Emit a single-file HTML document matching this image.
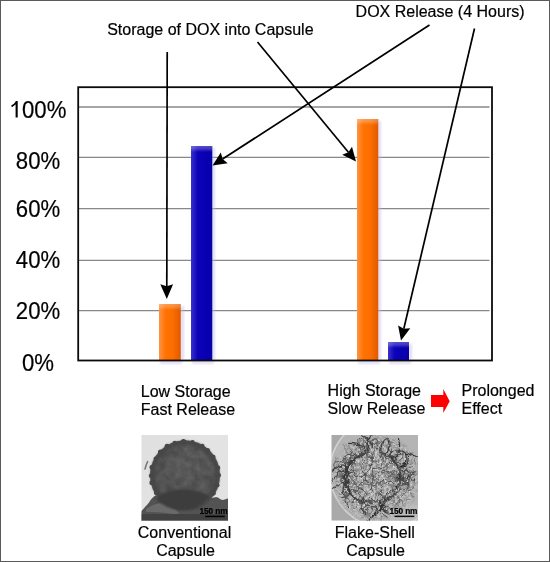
<!DOCTYPE html>
<html><head><meta charset="utf-8">
<style>
html,body{margin:0;padding:0;background:#fff;}
body{width:550px;height:562px;overflow:hidden;position:relative;}
svg{position:absolute;left:0;top:0;display:block;}
text{font-family:"Liberation Sans",sans-serif;fill:#000;stroke:#000;stroke-width:0.2px;}
</style></head>
<body>
<svg width="550" height="562" viewBox="0 0 550 562">
<g opacity="0.999">
<defs>
  <linearGradient id="ogH" x1="0" y1="0" x2="1" y2="0">
    <stop offset="0" stop-color="#ff9242"/>
    <stop offset="0.32" stop-color="#ff7200"/>
    <stop offset="0.62" stop-color="#fc6e00"/>
    <stop offset="1" stop-color="#e05a00"/>
  </linearGradient>
  <linearGradient id="bgH" x1="0" y1="0" x2="1" y2="0">
    <stop offset="0" stop-color="#3a30cc"/>
    <stop offset="0.32" stop-color="#0c02b8"/>
    <stop offset="0.7" stop-color="#0900b2"/>
    <stop offset="1" stop-color="#0700a6"/>
  </linearGradient>
  <linearGradient id="topHi" x1="0" y1="0" x2="0" y2="1">
    <stop offset="0" stop-color="#fff" stop-opacity="0.3"/>
    <stop offset="0.45" stop-color="#fff" stop-opacity="0.22"/>
    <stop offset="1" stop-color="#fff" stop-opacity="0"/>
  </linearGradient>
  <filter id="blur1" x="-50%" y="-50%" width="200%" height="200%"><feGaussianBlur stdDeviation="1.2"/></filter>
</defs>

<!-- outer border -->
<rect x="0.5" y="0.5" width="549" height="561" fill="none" stroke="#5a5a5a" stroke-width="1"/>

<!-- gridlines -->
<g stroke="#888" stroke-width="1.3">
  <line x1="79" y1="107" x2="489.5" y2="107"/>
  <line x1="79" y1="157.4" x2="489.5" y2="157.4"/>
  <line x1="79" y1="208.6" x2="489.5" y2="208.6"/>
  <line x1="79" y1="260.3" x2="489.5" y2="260.3"/>
  <line x1="79" y1="310.6" x2="489.5" y2="310.6"/>
</g>

<!-- bar shadows -->
<g fill="#c4bcef" opacity="0.5" filter="url(#blur1)">
  <rect x="180.5" y="306" width="3.5" height="54"/>
  <rect x="160" y="361" width="22" height="3"/>
  <rect x="211.5" y="148" width="3.5" height="212"/>
  <rect x="192" y="361" width="22" height="3"/>
  <rect x="377.5" y="121" width="3.5" height="239"/>
  <rect x="358" y="361" width="22" height="3"/>
  <rect x="408.5" y="344" width="3.5" height="16"/>
  <rect x="389" y="361" width="22" height="3"/>
</g>

<!-- bars -->
<rect x="159" y="304" width="21.8" height="56" fill="url(#ogH)"/>
<rect x="159" y="304" width="21.8" height="6" fill="url(#topHi)"/>
<rect x="191" y="146" width="21.3" height="214" fill="url(#bgH)"/>
<rect x="191" y="146" width="21.3" height="6" fill="url(#topHi)"/>
<rect x="357" y="119" width="21.3" height="241" fill="url(#ogH)"/>
<rect x="357" y="119" width="21.3" height="6" fill="url(#topHi)"/>
<rect x="388" y="342" width="21" height="18" fill="url(#bgH)"/>
<rect x="388" y="342" width="21" height="6" fill="url(#topHi)"/>

<!-- frame -->
<rect x="78.2" y="87.2" width="413.8" height="273.3" fill="none" stroke="#0a0a0a" stroke-width="1.8"/>

<!-- y labels -->
<g font-size="23" text-anchor="middle">
  <text transform="translate(38 117.9) scale(0.965 1.075)"><tspan style="fill:none;stroke:none">1</tspan>00%</text>
  <path d="M15.6 101.1 L17.7 101.1 L17.7 117.5 L15.6 117.5 Z M16.3 100.9 L17.5 102.6 Q14.5 105.9 11.9 107.3 L11.2 105.6 Q14 104 16.3 100.9 Z" fill="#000" stroke="none"/>
  <text transform="translate(38 168.9) scale(0.965 1.075)">80%</text>
  <text transform="translate(38 217.3) scale(0.965 1.075)">60%</text>
  <text transform="translate(38 268.1) scale(0.965 1.075)">40%</text>
  <text transform="translate(38 318.9) scale(0.965 1.075)">20%</text>
  <text transform="translate(38 370.9) scale(0.965 1.075)">0%</text>
</g>

<!-- arrows -->
<g stroke="#000" stroke-width="1.7" fill="none">
<line x1="167.2" y1="52.0" x2="166.8" y2="287.0"/>
<line x1="429.5" y1="25.0" x2="222.6" y2="159.0"/>
<line x1="474.5" y1="28.5" x2="403.8" y2="328.8"/>
<line x1="257.5" y1="42.0" x2="348.4" y2="152.2"/>
</g>
<g fill="#000">
<polygon points="166.8,299.0 160.3,284.2 166.8,286.2 173.1,284.2"/>
<polygon points="212.5,165.5 220.8,152.6 222.6,159.0 227.7,163.2"/>
<polygon points="401.0,340.5 398.1,325.4 403.8,328.8 410.3,328.3"/>
<polygon points="356.0,161.5 342.2,154.7 348.4,152.2 352.0,146.7"/>
</g>

<!-- top labels -->
<text x="107.2" y="35.1" font-size="16">Storage of DOX into Capsule</text>
<text x="355.6" y="17.2" font-size="16">DOX Release (4 Hours)</text>

<!-- bottom labels -->
<g font-size="16">
  <text x="140.8" y="397">Low Storage</text>
  <text x="140.8" y="415.1">Fast Release</text>
  <text x="327.6" y="395.9">High Storage</text>
  <text x="327.6" y="413.5">Slow Release</text>
  <text x="461.5" y="396">Prolonged</text>
  <text x="461.5" y="413.5">Effect</text>
</g>
<polygon points="431,395 443.3,395 443.3,389.1 449.7,401.3 443.3,413 443.3,407 431,407" fill="#ff0000"/>

<g font-size="16" text-anchor="middle">
  <text x="184.5" y="538.1">Conventional</text>
  <text x="185.5" y="555.6">Capsule</text>
  <text x="374.8" y="537.5">Flake-Shell</text>
  <text x="375.5" y="555.6">Capsule</text>
</g>

<!-- conventional capsule image -->
<defs>
  <clipPath id="convClip"><rect x="141.3" y="434.9" width="86.7" height="85.8"/></clipPath>
  <clipPath id="sphClip"><circle cx="185" cy="475.3" r="35"/></clipPath>
  <radialGradient id="sphG" cx="0.55" cy="0.4" r="0.62">
    <stop offset="0" stop-color="#555555"/>
    <stop offset="0.7" stop-color="#4e4e4e"/>
    <stop offset="1" stop-color="#444444"/>
  </radialGradient>
  <linearGradient id="convBg" x1="0" y1="0" x2="1" y2="0.6">
    <stop offset="0" stop-color="#dfdfdf"/>
    <stop offset="0.6" stop-color="#e4e4e4"/>
    <stop offset="1" stop-color="#e2e2e2"/>
  </linearGradient>
  <filter id="noiseTex" x="0" y="0" width="100%" height="100%" color-interpolation-filters="sRGB">
    <feTurbulence type="fractalNoise" baseFrequency="0.12" numOctaves="3" seed="21"/>
    <feColorMatrix type="matrix" values="1.3 0 0 0 -0.15  1.3 0 0 0 -0.15  1.3 0 0 0 -0.15  0 0 0 0 1"/>
  </filter>
  <filter id="soft" x="-5%" y="-5%" width="110%" height="110%"><feGaussianBlur stdDeviation="0.45"/></filter>
  <filter id="soft2" x="-10%" y="-10%" width="120%" height="120%"><feGaussianBlur stdDeviation="1"/></filter>
  <clipPath id="flkClip"><rect x="331.3" y="434.9" width="86.7" height="85.8"/></clipPath>
  <radialGradient id="capMaskG" cx="0.5" cy="0.5" r="0.5">
    <stop offset="0" stop-color="#fff"/>
    <stop offset="0.7" stop-color="#fff"/>
    <stop offset="1" stop-color="#000"/>
  </radialGradient>
  <mask id="capMask"><circle cx="376" cy="478" r="46" fill="url(#capMaskG)"/></mask>
  <filter id="mottle2" x="0" y="0" width="100%" height="100%" color-interpolation-filters="sRGB">
    <feTurbulence type="fractalNoise" baseFrequency="0.45" numOctaves="2" seed="8" result="n"/>
    <feColorMatrix in="n" type="matrix" values="0.6 0 0 0 0.38  0.6 0 0 0 0.38  0.6 0 0 0 0.38  0 0 0 0 1" result="g"/>
    <feTurbulence type="turbulence" baseFrequency="0.11" numOctaves="1" seed="4" result="t"/>
    <feColorMatrix in="t" type="matrix" values="9 0 0 0 0.55  9 0 0 0 0.55  9 0 0 0 0.55  0 0 0 0 1" result="tg"/>
    <feComposite in="g" in2="tg" operator="arithmetic" k1="1" k2="0" k3="0" k4="0"/>
  </filter>
  <filter id="wiggle" x="-20%" y="-20%" width="140%" height="140%">
    <feTurbulence type="fractalNoise" baseFrequency="0.2" numOctaves="2" seed="13" result="w"/>
    <feDisplacementMap in="SourceGraphic" in2="w" scale="5" xChannelSelector="R" yChannelSelector="G"/>
    <feGaussianBlur stdDeviation="0.4"/>
  </filter>
</defs>
<g clip-path="url(#convClip)" filter="url(#soft)">
  <rect x="141.3" y="434.9" width="86.7" height="85.8" fill="url(#convBg)"/>
  <circle cx="185" cy="475.3" r="35.7" fill="none" stroke="#eeeeee" stroke-width="1.4"/>
  <path d="M141.3 511.2 C144 508 147 505 149.2 502.2 C151 499 153 497 155.3 495.6 L190 496 L211.6 498 C213 497.5 216 497 217.4 497.3 C219 498 221 500 223.1 500.1 C225 499.5 226.5 498.7 228 498.5 L228 521 L141.3 521 Z" fill="#525252"/>
  <path d="M146 509 C152 505 158 502.5 163 503 C169 505 175 509.5 179 512.5 L177.5 514.5 C168 513 156 511.5 146 512 Z" fill="#6e6e6e" opacity="0.9"/>
  <rect x="141.3" y="514" width="86.7" height="8" fill="#424242"/>
  <circle cx="185" cy="475.3" r="35" fill="url(#sphG)"/>
  <g clip-path="url(#sphClip)">
    <rect x="149" y="439" width="72" height="72" fill="#808080" filter="url(#noiseTex)" opacity="0.1" style="mix-blend-mode:overlay"/>
  </g>
  <circle cx="185" cy="475.3" r="32.5" fill="none" stroke="#464646" stroke-width="4.5" opacity="0.9" filter="url(#soft2)"/>
  <g fill="#464646"><circle cx="218.8" cy="475.2" r="2.2"/><circle cx="217.1" cy="485.2" r="2.4"/><circle cx="213.4" cy="493.3" r="2.4"/><circle cx="156.3" cy="492.9" r="2.4"/><circle cx="151.9" cy="482.7" r="2.5"/><circle cx="151.0" cy="475.7" r="2.2"/><circle cx="152.0" cy="467.2" r="2.5"/><circle cx="155.7" cy="458.7" r="2.2"/><circle cx="160.4" cy="452.1" r="2.5"/><circle cx="167.1" cy="446.3" r="2.5"/><circle cx="174.8" cy="443.0" r="2.3"/><circle cx="183.4" cy="441.5" r="2.6"/><circle cx="192.5" cy="442.2" r="2.2"/><circle cx="202.3" cy="445.9" r="2.2"/><circle cx="207.6" cy="450.4" r="2.4"/><circle cx="213.3" cy="457.1" r="2.3"/><circle cx="218.0" cy="467.9" r="2.3"/></g>
  <path d="M156 499 C163 492 172 489.5 181 489.5 C192 489.5 202 491 209.5 496 C203 505 194 510 185 510 C172 510 163 506 156 499 Z" fill="#3c3c3c" filter="url(#soft2)"/>
  <path d="M147.6 461.5 Q146 465 145 469" stroke="#7a7a7a" stroke-width="1.6" stroke-linecap="round"/>
  <text x="213.6" y="513.8" font-size="8.3" font-weight="bold" text-anchor="middle" fill="#000" stroke="#000" stroke-width="0.35" letter-spacing="-0.1">150 nm</text>
  <rect x="205.1" y="515.7" width="19.8" height="1.5" fill="#050505"/>
</g>

<!-- flake-shell capsule image -->
<g clip-path="url(#flkClip)" filter="url(#soft)">
  <rect x="331.3" y="434.9" width="86.7" height="85.8" fill="#a9a9a9"/>
  <circle cx="386" cy="472" r="56" fill="#b4b4b4" stroke="#d4d4d4" stroke-width="1.5"/>
  <g mask="url(#capMask)">
    <rect x="328" y="432" width="94" height="94" fill="#fff" filter="url(#mottle2)"/>
  </g>
  <g fill="none" stroke-linecap="round" filter="url(#wiggle)">
<path d="M396.3 479.3Q402.8 477.5 408.4 484.8" stroke="#303030" stroke-width="1.28"/>
<path d="M350.9 472.4Q343.3 464.1 330.8 482.0" stroke="#2b2b2b" stroke-width="0.87"/>
<path d="M347.9 493.1Q341.0 489.3 348.7 507.8" stroke="#414141" stroke-width="0.97"/>
<path d="M380.4 501.7Q379.1 509.7 391.2 513.7" stroke="#353535" stroke-width="1.01"/>
<path d="M395.7 485.0Q398.7 490.3 406.5 480.1" stroke="#585858" stroke-width="0.82"/>
<path d="M370.8 448.7Q374.4 440.7 360.7 434.6" stroke="#434343" stroke-width="1.16"/>
<path d="M382.9 503.0Q378.7 509.5 397.1 507.0" stroke="#3d3d3d" stroke-width="0.95"/>
<path d="M379.9 504.7Q384.5 508.1 375.0 514.6" stroke="#333333" stroke-width="1.08"/>
<path d="M399.9 466.3Q406.8 468.5 406.0 453.8" stroke="#292929" stroke-width="1.26"/>
<path d="M355.2 464.0Q347.4 464.4 352.1 449.1" stroke="#343434" stroke-width="0.86"/>
<path d="M380.7 501.1Q376.9 508.4 395.1 508.2" stroke="#2f2f2f" stroke-width="0.93"/>
<path d="M392.4 458.1Q402.4 454.6 398.4 438.1" stroke="#323232" stroke-width="1.16"/>
<path d="M389.2 457.0Q390.2 449.3 403.5 451.4" stroke="#393939" stroke-width="1.23"/>
<path d="M399.2 474.5Q405.8 468.7 414.2 482.9" stroke="#5f5f5f" stroke-width="0.87"/>
<path d="M369.2 450.3Q363.6 441.5 375.0 430.3" stroke="#383838" stroke-width="1.04"/>
<path d="M378.6 452.2Q384.7 448.4 370.4 441.0" stroke="#4d4d4d" stroke-width="0.94"/>
<path d="M383.5 497.5Q389.2 499.6 380.1 508.7" stroke="#2b2b2b" stroke-width="1.26"/>
<path d="M395.0 459.0Q398.1 448.6 416.3 456.6" stroke="#333333" stroke-width="1.08"/>
<path d="M347.7 467.6Q342.8 461.4 332.4 470.2" stroke="#343434" stroke-width="1.16"/>
<path d="M348.5 483.7Q343.1 480.0 342.6 494.6" stroke="#3e3e3e" stroke-width="1.17"/>
<path d="M399.3 467.8Q407.7 469.9 408.7 453.7" stroke="#2f2f2f" stroke-width="1.17"/>
<path d="M379.8 500.6Q378.2 510.4 392.9 515.4" stroke="#3b3b3b" stroke-width="1.07"/>
<path d="M374.8 505.7Q380.2 513.5 365.3 521.8" stroke="#2a2a2a" stroke-width="1.04"/>
<path d="M384.9 456.1Q389.0 450.2 390.1 442.6" stroke="#3f3f3f" stroke-width="0.91"/>
<path d="M398.5 482.8Q405.6 488.1 415.5 478.7" stroke="#3c3c3c" stroke-width="0.97"/>
<path d="M365.5 453.9Q368.6 444.3 348.6 443.4" stroke="#373737" stroke-width="1.24"/>
<path d="M364.6 453.5Q359.8 446.9 363.5 437.3" stroke="#5a5a5a" stroke-width="0.82"/>
<path d="M398.5 477.5Q407.0 480.4 415.2 471.7" stroke="#373737" stroke-width="1.09"/>
<path d="M350.3 493.6Q346.8 497.9 339.9 497.3" stroke="#505050" stroke-width="1.07"/>
<path d="M363.8 498.1Q357.2 502.9 365.3 514.3" stroke="#3f3f3f" stroke-width="1.25"/>
<path d="M349.9 482.2Q341.1 482.5 333.4 488.4" stroke="#353535" stroke-width="1.08"/>
<path d="M378.0 502.4Q375.9 511.6 388.7 517.9" stroke="#373737" stroke-width="0.82"/>
<path d="M399.9 469.8Q403.0 461.8 412.8 479.6" stroke="#636363" stroke-width="0.83"/>
<path d="M362.9 453.3C352.3 434.5 364.7 430.3 367.5 451.7" stroke="#333333" stroke-width="0.82"/>
<path d="M402.2 478.5C413.7 475.9 410.5 493.4 400.6 486.9" stroke="#6a6a6a" stroke-width="0.76"/>
<path d="M346.6 469.7C332.2 468.1 338.0 454.3 349.2 463.6" stroke="#4e4e4e" stroke-width="0.97"/>
<path d="M346.6 472.2C326.1 471.4 332.2 453.6 348.9 465.4" stroke="#3f3f3f" stroke-width="0.77"/>
<path d="M349.0 463.3C339.0 460.2 347.8 448.8 353.3 457.6" stroke="#444444" stroke-width="0.95"/>
<path d="M358.4 457.4C348.1 448.5 363.2 440.3 365.0 453.9" stroke="#646464" stroke-width="0.72"/>
<path d="M399.1 471.8C413.7 465.4 415.1 483.5 399.7 479.4" stroke="#515151" stroke-width="1.06"/>
<path d="M379.9 451.5C381.8 432.4 396.7 438.0 385.7 453.7" stroke="#383838" stroke-width="1.05"/>
<path d="M367.2 450.7C361.8 439.3 377.4 437.7 374.4 450.0" stroke="#656565" stroke-width="0.79"/>
<path d="M371.3 448.8C368.1 435.6 381.3 436.0 377.3 449.0" stroke="#414141" stroke-width="0.94"/>
<path d="M399.4 481.0C412.1 480.2 408.1 494.8 397.6 487.6" stroke="#404040" stroke-width="1.03"/>
<path d="M392.7 492.9C411.7 504.0 398.0 517.0 387.8 497.5" stroke="#5b5b5b" stroke-width="0.81"/>
<path d="M378.6 452.2Q383.4 452.8 387.5 455.3" stroke="#474747" stroke-width="1.23"/>
<path d="M390.5 497.4Q388.6 498.6 386.8 499.8" stroke="#3c3c3c" stroke-width="1.12"/>
<path d="M389.0 456.8Q392.9 458.8 395.2 462.3" stroke="#363636" stroke-width="1.29"/>
<path d="M351.6 464.2Q352.6 461.9 354.8 460.6" stroke="#404040" stroke-width="1.32"/>
<path d="M346.1 470.5Q345.9 468.5 347.5 467.0" stroke="#313131" stroke-width="1.38"/>
<path d="M399.7 472.3Q401.2 475.5 400.2 478.8" stroke="#4d4d4d" stroke-width="1.15"/>
<path d="M384.3 457.2Q386.0 458.5 387.9 459.3" stroke="#3b3b3b" stroke-width="1.01"/>
<path d="M350.8 463.8Q352.9 459.4 357.5 457.3" stroke="#2c2c2c" stroke-width="1.43"/>
<path d="M396.2 463.5Q396.5 465.1 397.9 466.2" stroke="#3e3e3e" stroke-width="1.30"/>
<path d="M375.5 502.0Q372.4 502.6 369.3 501.7" stroke="#3b3b3b" stroke-width="1.18"/>
<path d="M396.1 492.5Q393.6 495.5 390.3 498.0" stroke="#4a4a4a" stroke-width="1.00"/>
<path d="M401.4 473.3Q403.5 477.4 401.4 481.6" stroke="#3c3c3c" stroke-width="1.07"/>
<path d="M348.8 481.5Q347.5 476.9 349.0 472.3" stroke="#383838" stroke-width="1.40"/>
<path d="M355.4 459.2Q357.7 458.3 359.2 456.5" stroke="#4e4e4e" stroke-width="1.35"/>
<path d="M359.3 456.8Q362.2 455.1 365.3 454.1" stroke="#363636" stroke-width="1.09"/>
<path d="M358.1 499.1Q355.9 498.0 354.3 496.3" stroke="#4a4a4a" stroke-width="1.59"/>
<path d="M397.9 483.6Q396.6 488.1 393.7 491.7" stroke="#2d2d2d" stroke-width="1.26"/>
<path d="M343.8 479.0Q344.7 475.3 344.4 471.5" stroke="#484848" stroke-width="1.38"/>
<path d="M399.3 474.1Q399.9 476.5 399.5 478.9" stroke="#323232" stroke-width="1.21"/>
<path d="M374.6 507.0Q370.6 506.7 366.5 506.3" stroke="#4e4e4e" stroke-width="1.36"/>
<path d="M348.5 460.2Q351.0 456.1 355.5 453.9" stroke="#2e2e2e" stroke-width="0.92"/>
<path d="M351.3 493.3Q349.5 489.7 347.2 486.3" stroke="#2f2f2f" stroke-width="1.57"/>
<path d="M346.5 482.7Q346.0 480.6 345.9 478.5" stroke="#323232" stroke-width="1.32"/>
<path d="M390.3 491.9Q389.7 493.6 388.0 494.0" stroke="#474747" stroke-width="0.93"/>
<path d="M347.2 470.0Q348.1 466.4 350.5 463.5" stroke="#2b2b2b" stroke-width="0.93"/>
<path d="M348.4 467.3Q348.7 465.2 350.4 463.9" stroke="#2d2d2d" stroke-width="0.94"/>
<path d="M388.5 455.5Q391.8 456.0 393.1 458.9" stroke="#3f3f3f" stroke-width="1.47"/>
<path d="M395.3 477.0Q395.6 478.7 395.1 480.4" stroke="#4a4a4a" stroke-width="1.60"/>
<path d="M345.7 478.0Q344.9 474.4 346.6 470.9" stroke="#292929" stroke-width="1.47"/>
<path d="M396.8 477.0Q396.6 479.0 396.5 481.1" stroke="#2b2b2b" stroke-width="1.22"/>
<path d="M390.4 497.8Q387.7 500.5 383.9 501.3" stroke="#3f3f3f" stroke-width="0.96"/>
<path d="M372.9 502.0Q368.3 502.4 364.1 500.4" stroke="#4e4e4e" stroke-width="1.54"/>
<path d="M347.5 476.6Q348.0 475.2 347.8 473.7" stroke="#373737" stroke-width="0.98"/>
<path d="M391.3 495.9Q388.8 499.4 384.4 500.1" stroke="#343434" stroke-width="1.39"/>
<path d="M372.0 500.4Q368.7 500.1 365.6 499.2" stroke="#3c3c3c" stroke-width="1.04"/>
<path d="M353.0 466.7Q353.2 464.6 348.1 460.6" stroke="#676767" stroke-width="0.77"/>
<path d="M368.7 454.8Q370.8 456.9 374.7 456.2" stroke="#6d6d6d" stroke-width="0.78"/>
<path d="M373.4 492.4Q366.4 492.9 365.3 492.1" stroke="#7c7c7c" stroke-width="0.89"/>
<path d="M397.5 476.9Q396.9 482.7 394.4 483.9" stroke="#6c6c6c" stroke-width="0.71"/>
<path d="M393.7 471.1Q387.3 471.3 386.8 476.6" stroke="#7d7d7d" stroke-width="0.82"/>
<path d="M376.7 493.5Q378.6 493.0 382.7 489.7" stroke="#636363" stroke-width="0.63"/>
<path d="M383.7 458.5Q382.2 458.3 384.4 463.1" stroke="#7c7c7c" stroke-width="0.75"/>
<path d="M368.0 457.7Q361.3 457.7 359.4 455.9" stroke="#737373" stroke-width="0.87"/>
<path d="M351.9 489.7Q347.1 486.6 346.1 489.3" stroke="#6c6c6c" stroke-width="0.77"/>
<path d="M385.4 485.9Q378.6 484.9 376.1 482.5" stroke="#7f7f7f" stroke-width="0.66"/>
<path d="M372.7 481.0Q371.6 477.5 367.1 474.6" stroke="#626262" stroke-width="0.77"/>
<path d="M384.6 462.6Q380.9 456.5 380.8 455.4" stroke="#5a5a5a" stroke-width="0.81"/>
<path d="M349.7 475.9Q351.6 477.7 353.4 484.2" stroke="#606060" stroke-width="0.70"/>
<path d="M381.9 458.7Q382.9 454.9 385.4 456.7" stroke="#6b6b6b" stroke-width="0.69"/>
<path d="M378.6 483.6Q380.6 484.8 384.0 481.9" stroke="#676767" stroke-width="0.80"/>
<path d="M385.5 456.3Q387.2 461.5 384.1 466.8" stroke="#606060" stroke-width="0.71"/>
<path d="M379.6 455.2Q379.4 460.2 381.8 461.2" stroke="#7c7c7c" stroke-width="0.69"/>
<path d="M384.0 470.5Q387.4 463.8 390.4 462.5" stroke="#696969" stroke-width="0.67"/>
<path d="M364.4 470.8Q367.9 466.9 365.9 463.5" stroke="#5b5b5b" stroke-width="0.63"/>
<path d="M372.9 475.0Q371.9 476.4 366.4 483.2" stroke="#707070" stroke-width="0.87"/>
<path d="M361.2 489.5Q358.4 485.4 354.4 483.0" stroke="#616161" stroke-width="0.85"/>
<path d="M368.9 464.7Q375.0 460.9 378.8 460.1" stroke="#757575" stroke-width="0.60"/>
<path d="M388.4 474.1Q390.4 477.3 387.4 482.4" stroke="#787878" stroke-width="0.87"/>
<path d="M353.4 478.6Q359.7 483.6 363.1 483.5" stroke="#7f7f7f" stroke-width="0.69"/>
<path d="M381.6 467.1Q389.5 465.4 391.7 464.8" stroke="#7d7d7d" stroke-width="0.77"/>
<path d="M392.8 484.0Q396.7 482.8 395.6 476.0" stroke="#808080" stroke-width="0.88"/>
<path d="M383.7 473.0Q385.3 471.1 390.6 472.3" stroke="#666666" stroke-width="0.87"/>
<path d="M375.0 472.5Q370.2 476.1 368.5 476.5" stroke="#7f7f7f" stroke-width="0.71"/>
<path d="M356.4 480.4Q356.4 473.7 353.7 472.8" stroke="#696969" stroke-width="0.70"/>
<path d="M394.5 486.1Q389.7 487.0 384.6 483.5" stroke="#7f7f7f" stroke-width="0.82"/>
<path d="M377.6 462.7Q374.8 460.9 369.3 463.3" stroke="#7a7a7a" stroke-width="0.64"/>
<path d="M355.5 473.8Q356.2 477.1 357.5 477.7" stroke="#616161" stroke-width="0.66"/>
<path d="M382.3 460.4Q380.2 455.3 381.3 451.5" stroke="#707070" stroke-width="0.60"/>
<path d="M361.5 493.0Q363.8 496.5 365.7 495.0" stroke="#626262" stroke-width="0.78"/>
<path d="M371.9 473.6Q375.0 480.3 374.7 481.6" stroke="#606060" stroke-width="0.89"/>
<path d="M351.7 477.5Q354.7 472.3 355.1 472.8" stroke="#5a5a5a" stroke-width="0.61"/>
<path d="M349.8 469.7Q353.5 470.1 353.9 465.6" stroke="#727272" stroke-width="0.62"/>
<path d="M385.2 455.5Q390.4 457.8 394.6 456.0" stroke="#696969" stroke-width="0.86"/>
<path d="M351.3 487.3Q352.8 483.5 355.7 481.8" stroke="#6c6c6c" stroke-width="0.68"/>
<path d="M393.3 478.3Q389.6 476.0 388.4 469.8" stroke="#747474" stroke-width="0.90"/>
<path d="M368.7 456.7Q363.9 461.6 362.2 462.8" stroke="#7c7c7c" stroke-width="0.64"/>
<path d="M354.4 471.0Q358.8 469.8 358.7 469.1" stroke="#616161" stroke-width="0.70"/>
<path d="M349.7 484.7Q356.2 480.7 357.1 481.0" stroke="#656565" stroke-width="0.85"/>
<path d="M393.4 480.0Q392.5 477.9 389.6 481.5" stroke="#5e5e5e" stroke-width="0.74"/>
<path d="M390.4 471.9Q393.7 472.3 396.5 471.2" stroke="#5c5c5c" stroke-width="0.64"/>
<path d="M375.7 485.3Q376.2 478.8 376.9 478.0" stroke="#676767" stroke-width="0.89"/>
<path d="M398.3 479.7Q393.0 481.1 393.5 480.2" stroke="#585858" stroke-width="0.72"/>
<path d="M374.4 476.5Q374.3 473.6 377.9 472.8" stroke="#6d6d6d" stroke-width="0.83"/>
<path d="M356.5 490.0Q360.1 494.6 360.6 499.1" stroke="#5d5d5d" stroke-width="0.77"/>
<path d="M393.8 464.6Q398.2 465.0 400.3 465.5" stroke="#686868" stroke-width="0.88"/>
<path d="M393.5 483.4Q391.9 485.5 394.0 492.0" stroke="#585858" stroke-width="0.80"/>
<path d="M363.0 464.9Q365.6 468.9 362.8 469.4" stroke="#5d5d5d" stroke-width="0.64"/>
<path d="M384.7 473.0Q384.0 474.6 387.7 479.3" stroke="#777777" stroke-width="0.84"/>
<path d="M353.3 468.8Q355.2 468.1 351.3 472.7" stroke="#595959" stroke-width="0.80"/>
<path d="M386.4 465.3Q385.5 470.9 388.7 472.5" stroke="#585858" stroke-width="0.61"/>
<path d="M366.8 455.8Q369.4 458.2 367.0 460.8" stroke="#737373" stroke-width="0.62"/>
<path d="M370.1 468.0Q368.0 463.8 370.3 463.2" stroke="#5a5a5a" stroke-width="0.61"/>
<path d="M349.9 480.9Q350.0 477.9 348.1 477.2" stroke="#666666" stroke-width="0.79"/>
<path d="M390.5 485.7Q393.7 486.4 399.9 486.1" stroke="#808080" stroke-width="0.87"/>
<path d="M385.1 498.5Q390.5 498.8 392.9 497.6" stroke="#7b7b7b" stroke-width="0.75"/>
<path d="M378.9 490.9Q374.7 495.9 374.9 498.7" stroke="#767676" stroke-width="0.82"/>
<path d="M370.3 467.3Q365.7 465.0 362.2 464.4" stroke="#808080" stroke-width="0.67"/>
<path d="M354.3 487.9Q359.3 492.8 361.9 492.3" stroke="#7d7d7d" stroke-width="0.83"/>
<path d="M390.3 492.7Q393.7 495.2 393.4 497.7" stroke="#737373" stroke-width="0.80"/>
<path d="M362.3 486.9Q365.7 481.4 367.2 479.7" stroke="#717171" stroke-width="0.76"/>
<path d="M361.1 472.6Q359.0 472.9 360.9 467.7" stroke="#6d6d6d" stroke-width="0.76"/>
<path d="M379.1 492.8Q384.9 496.3 385.6 498.3" stroke="#5b5b5b" stroke-width="0.89"/>
<path d="M369.3 457.2Q368.2 460.7 364.3 460.7" stroke="#5d5d5d" stroke-width="0.78"/>
<path d="M359.7 463.4Q355.4 465.3 354.9 463.4" stroke="#6d6d6d" stroke-width="0.83"/>
<path d="M371.1 457.6Q372.1 464.0 373.7 465.0" stroke="#595959" stroke-width="0.64"/>
<path d="M396.7 475.7Q395.6 473.9 395.1 470.9" stroke="#5d5d5d" stroke-width="0.74"/>
<path d="M377.5 479.2Q375.7 484.1 375.8 489.7" stroke="#646464" stroke-width="0.90"/>
<path d="M369.4 453.5Q372.5 457.3 373.8 455.3" stroke="#717171" stroke-width="0.69"/>
<path d="M374.4 489.0Q373.1 486.8 370.4 482.6" stroke="#737373" stroke-width="0.85"/>
<path d="M357.2 485.8Q356.6 489.6 352.4 491.2" stroke="#616161" stroke-width="0.70"/>
<path d="M360.3 484.0Q363.9 485.5 370.4 484.3" stroke="#636363" stroke-width="0.87"/>
<path d="M380.8 476.3Q377.9 478.0 376.0 478.6" stroke="#757575" stroke-width="0.78"/>
<path d="M359.6 464.2Q360.7 464.0 361.8 469.0" stroke="#707070" stroke-width="0.81"/>
<path d="M353.0 469.9Q355.2 472.5 357.8 470.8" stroke="#696969" stroke-width="0.67"/>
<path d="M378.7 467.9Q377.6 465.2 372.3 459.4" stroke="#6a6a6a" stroke-width="0.69"/>
<path d="M416.3 474.0Q419.3 476.5 419.5 481.6" stroke="#808080" stroke-width="0.70"/>
<path d="M402.9 489.9Q406.8 490.3 408.0 487.2" stroke="#767676" stroke-width="0.7"/>
<path d="M403.4 452.5Q402.1 454.0 402.8 456.9" stroke="#6b6b6b" stroke-width="0.7"/>
<path d="M409.6 486.9Q407.2 487.2 401.8 484.3" stroke="#7a7a7a" stroke-width="0.70"/>
<path d="M398.0 505.7Q394.8 508.8 394.3 507.9" stroke="#707070" stroke-width="0.70"/>
<path d="M406.9 489.4Q408.2 485.1 404.7 480.1" stroke="#696969" stroke-width="0.70"/>
<path d="M385.7 508.0Q384.1 504.1 385.8 498.7" stroke="#6a6a6a" stroke-width="0.70"/>
<path d="M413.1 481.8Q413.0 486.2 415.3 486.8" stroke="#767676" stroke-width="0.70"/>
<path d="M408.0 475.6Q407.4 472.6 410.2 466.5" stroke="#7d7d7d" stroke-width="0.70"/>
<path d="M386.2 440.1Q382.6 439.7 379.8 442.3" stroke="#787878" stroke-width="0.70"/>
<path d="M412.1 489.7Q410.0 491.4 412.9 496.4" stroke="#6d6d6d" stroke-width="0.7"/>
<path d="M380.9 440.0Q381.6 443.0 384.8 445.9" stroke="#6b6b6b" stroke-width="0.70"/>
<path d="M397.5 505.9Q399.1 502.0 400.1 498.7" stroke="#757575" stroke-width="0.7"/>
<path d="M335.5 456.1Q337.4 457.1 334.6 463.7" stroke="#6c6c6c" stroke-width="0.7"/>
<path d="M405.8 505.6Q402.9 504.4 401.4 507.8" stroke="#6c6c6c" stroke-width="0.7"/>
<path d="M413.2 457.1Q415.3 457.7 414.1 464.3" stroke="#6b6b6b" stroke-width="0.7"/>
<path d="M403.7 511.7Q397.3 509.5 395.5 509.6" stroke="#6a6a6a" stroke-width="0.70"/>
<path d="M393.0 503.0Q393.4 500.3 398.8 496.0" stroke="#7a7a7a" stroke-width="0.70"/>
<path d="M374.1 435.0Q376.4 433.7 380.1 430.9" stroke="#767676" stroke-width="0.70"/>
<path d="M407.6 464.2Q411.2 464.8 410.2 460.2" stroke="#7b7b7b" stroke-width="0.70"/>
<path d="M370.8 441.9Q374.9 443.5 380.2 443.1" stroke="#717171" stroke-width="0.70"/>
<path d="M408.5 491.8Q404.2 492.3 404.5 490.7" stroke="#707070" stroke-width="0.7"/>
<path d="M402.0 492.4Q400.3 497.7 399.0 499.1" stroke="#6e6e6e" stroke-width="0.7"/>
<path d="M398.0 513.9Q401.2 507.8 399.1 505.2" stroke="#6b6b6b" stroke-width="0.7"/>
<path d="M405.5 455.8Q408.3 451.8 413.7 452.7" stroke="#737373" stroke-width="0.70"/>
<path d="M412.3 478.4Q415.4 474.7 415.9 470.9" stroke="#6d6d6d" stroke-width="0.7"/>
<path d="M418.5 477.1Q421.5 472.4 423.5 472.2" stroke="#797979" stroke-width="0.70"/>
<path d="M387.0 506.1Q388.7 506.8 388.1 510.6" stroke="#686868" stroke-width="0.70"/>
<path d="M347.6 453.2Q344.4 449.2 343.3 444.6" stroke="#737373" stroke-width="0.7"/>
<path d="M352.0 449.2Q350.8 448.8 345.0 443.6" stroke="#7a7a7a" stroke-width="0.70"/>
<path d="M367.7 433.8Q364.6 429.1 364.2 427.1" stroke="#6f6f6f" stroke-width="0.7"/>
<path d="M407.2 460.2Q405.2 464.4 407.4 465.7" stroke="#767676" stroke-width="0.7"/>
<path d="M412.7 479.7Q410.8 479.1 408.2 478.4" stroke="#787878" stroke-width="0.7"/>
<path d="M394.9 440.5Q389.7 444.9 386.9 446.5" stroke="#787878" stroke-width="0.7"/>
<path d="M414.4 488.2Q408.2 485.5 406.9 487.5" stroke="#767676" stroke-width="0.70"/>
<path d="M386.9 439.4Q388.7 441.0 394.1 442.7" stroke="#737373" stroke-width="0.7"/>
<path d="M395.6 447.3Q397.0 450.1 400.5 449.0" stroke="#696969" stroke-width="0.70"/>
<path d="M381.5 518.2Q383.5 526.0 379.9 527.9" stroke="#7f7f7f" stroke-width="0.70"/>
<path d="M354.1 453.7Q351.0 455.2 350.7 460.4" stroke="#717171" stroke-width="0.70"/>
<path d="M392.5 502.1Q394.9 499.1 395.4 492.9" stroke="#787878" stroke-width="0.7"/>
  </g>
  <g fill="none" filter="url(#wiggle)" stroke-linecap="round">
<path d="M363.4 502.4A28.0 26.0 0 0 1 363.4 453.6" stroke="#383838" stroke-width="2.2" stroke-dasharray="9 2 6 3 12 3" opacity="0.85"/>
<path d="M382.4 454.0A27.5 25.5 0 0 1 382.4 502.0" stroke="#404040" stroke-width="1.6" stroke-dasharray="8 3 5 2" opacity="0.8"/>
<path d="M363.8 454.5A27.0 25.0 0 0 1 382.2 454.5" stroke="#505050" stroke-width="1.0" stroke-dasharray="5 3 3 4" opacity="0.55"/>
<path d="M382.4 502.4A27.5 26.0 0 0 1 363.6 502.4" stroke="#4a4a4a" stroke-width="1.1" stroke-dasharray="6 3 4 2" opacity="0.6"/>
  </g>
  <rect x="388" y="505" width="31" height="15" fill="#c4c4c4" opacity="0.55" filter="url(#soft2)"/>
  <text x="403.4" y="513.8" font-size="8.3" font-weight="bold" text-anchor="middle" fill="#000" stroke="#000" stroke-width="0.35" letter-spacing="-0.1">150 nm</text>
  <rect x="394.5" y="515.6" width="19.8" height="1.5" fill="#111"/>
</g>
</g>
</svg>
</body></html>
